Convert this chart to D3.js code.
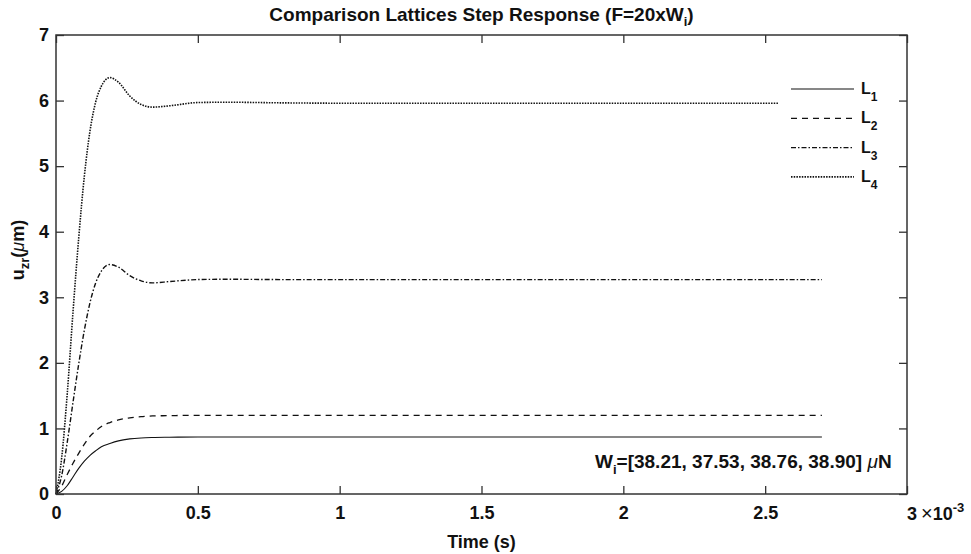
<!DOCTYPE html>
<html>
<head>
<meta charset="utf-8">
<script src="https://cdn.jsdelivr.net/npm/d3@7"></script>
<style>
  html, body { margin: 0; padding: 0; background: #fff; }
  svg { display: block; }
  text { font-family: "Liberation Sans", Arial, sans-serif; font-weight: bold; fill: #111; }
</style>
</head>
<body>
<svg id="chart" width="971" height="554"></svg>
<script>
// ---- data (time in ms, displacement in µm) ----
const timeMs = [0, 0.02, 0.04, 0.06, 0.08, 0.10, 0.12, 0.14, 0.16, 0.19, 0.22, 0.26, 0.30, 0.34, 0.40, 0.50, 0.60, 0.80, 1.0, 1.5, 2.0, 2.7];
const timeL4 = [0, 0.02, 0.04, 0.06, 0.08, 0.10, 0.12, 0.14, 0.16, 0.19, 0.22, 0.26, 0.30, 0.34, 0.40, 0.50, 0.60, 0.80, 1.0, 1.5, 2.0, 2.545];
const L1 = [0, 0.04, 0.13, 0.26, 0.39, 0.50, 0.59, 0.66, 0.72, 0.77, 0.81, 0.84, 0.855, 0.862, 0.866, 0.87, 0.87, 0.87, 0.87, 0.87, 0.87, 0.87];
const L2 = [0, 0.12, 0.30, 0.47, 0.62, 0.76, 0.88, 0.96, 1.03, 1.09, 1.13, 1.16, 1.18, 1.19, 1.195, 1.2, 1.2, 1.2, 1.2, 1.2, 1.2, 1.2];
const L3 = [0, 0.28, 0.80, 1.40, 1.98, 2.50, 2.92, 3.22, 3.40, 3.50, 3.46, 3.33, 3.25, 3.22, 3.24, 3.27, 3.275, 3.27, 3.27, 3.27, 3.27, 3.27];
const L4 = [0, 0.55, 1.55, 2.78, 3.90, 4.85, 5.54, 5.98, 6.22, 6.35, 6.28, 6.07, 5.94, 5.90, 5.92, 5.97, 5.975, 5.965, 5.96, 5.96, 5.96, 5.96];
const seriesNames = ["1", "2", "3", "4"];
const xTicks = [0, 0.5, 1, 1.5, 2, 2.5, 3];
const yTicks = [0, 1, 2, 3, 4, 5, 6, 7];
const titleMain = "Comparison Lattices Step Response (F=20xW";
const annotationValues = "=[38.21, 37.53, 38.76, 38.90] ";

// ---- layout ----
const svg = d3.select("#chart");
const m = { left: 56, right: 907, top: 35, bottom: 494 };
const x = d3.scaleLinear().domain([0, 3]).range([m.left, m.right]);
const y = d3.scaleLinear().domain([0, 7]).range([m.bottom, m.top]);

const series = [
  { name: seriesNames[0], t: timeMs, v: L1, dash: null, w: 1.1 },
  { name: seriesNames[1], t: timeMs, v: L2, dash: "6,5", w: 1.3 },
  { name: seriesNames[2], t: timeMs, v: L3, dash: "5,2,1.5,2", w: 1.4 },
  { name: seriesNames[3], t: timeL4, v: L4, dash: "1.5,1.2", w: 1.6 }
];

const line = d3.line().x(d => x(d[0])).y(d => y(d[1])).curve(d3.curveMonotoneX);
const plot = svg.append("g");
series.forEach(s => {
  const pts = s.t.map((t, i) => [t, s.v[i]]);
  plot.append("path").datum(pts).attr("d", line)
    .attr("fill", "none").attr("stroke", "#111").attr("stroke-width", s.w)
    .attr("stroke-dasharray", s.dash);
});

// ---- axes (inward ticks, box) ----
const tickLen = 8;
const axisCol = "#333";
const fontSize = 18;
const xb = svg.append("g").attr("transform", `translate(0,${m.bottom})`)
  .call(d3.axisBottom(x).tickValues(xTicks).tickSizeInner(-tickLen).tickSizeOuter(0).tickPadding(12)
    .tickFormat(d => d === 3 ? "" : d3.format("~g")(d)));
const xt = svg.append("g").attr("transform", `translate(0,${m.top})`)
  .call(d3.axisTop(x).tickValues(xTicks).tickSizeInner(-tickLen).tickSizeOuter(0).tickFormat(""));
const yl = svg.append("g").attr("transform", `translate(${m.left},0)`)
  .call(d3.axisLeft(y).tickValues(yTicks).tickSizeInner(-tickLen).tickSizeOuter(0).tickPadding(13)
    .tickFormat(d3.format("d")));
const yr = svg.append("g").attr("transform", `translate(${m.right},0)`)
  .call(d3.axisRight(y).tickValues(yTicks).tickSizeInner(-tickLen).tickSizeOuter(0).tickFormat(""));
[xb, xt, yl, yr].forEach(g => {
  g.selectAll(".domain").remove();
  g.selectAll("line").attr("stroke", axisCol).attr("stroke-width", 1.3);
  g.selectAll("text").attr("font-size", fontSize).attr("font-family", "Liberation Sans, Arial, sans-serif")
    .attr("font-weight", "bold").attr("fill", "#111");
});
yl.selectAll("text").attr("dx", 6);
svg.append("rect").attr("x", m.left).attr("y", m.top)
  .attr("width", m.right - m.left).attr("height", m.bottom - m.top)
  .attr("fill", "none").attr("stroke", axisCol).attr("stroke-width", 1.5);

// exponent label at the end of the x axis
const ex = svg.append("text").attr("x", x(3)).attr("y", m.bottom + 26).attr("font-size", fontSize)
  .attr("text-anchor", "start").attr("dx", 0);
ex.append("tspan").text("3");
ex.append("tspan").attr("font-weight", "normal").attr("font-size", 20).attr("dx", 4).text("\u00d7");
ex.append("tspan").text("10");
ex.append("tspan").attr("font-size", 13).attr("dy", -8).text("-3");

// ---- title ----
const tt = svg.append("text").attr("x", (m.left + m.right) / 2).attr("y", 21)
  .attr("text-anchor", "middle").attr("font-size", 19);
tt.append("tspan").text(titleMain);
tt.append("tspan").attr("font-size", 13).attr("dy", 5).text("i");
tt.append("tspan").attr("dy", -5).text(")");

// ---- axis labels ----
svg.append("text").attr("x", (m.left + m.right) / 2).attr("y", 548)
  .attr("text-anchor", "middle").attr("font-size", 18).text("Time (s)");
const ylab = svg.append("text").attr("transform", "translate(24,250) rotate(-90)")
  .attr("text-anchor", "middle").attr("font-size", 18);
ylab.append("tspan").text("u");
ylab.append("tspan").attr("font-size", 13).attr("dy", 5).text("zr");
ylab.append("tspan").attr("dy", -5).text("(");
ylab.append("tspan").attr("font-weight", "normal").attr("font-style", "italic").text("\u03bc");
ylab.append("tspan").text("m)");

// ---- legend (no box) ----
const legY0 = 89, legDy = 29.3;
series.forEach((s, i) => {
  const ly = legY0 + i * legDy;
  svg.append("line").attr("x1", 791).attr("x2", 854).attr("y1", ly).attr("y2", ly)
    .attr("stroke", "#111").attr("stroke-width", s.w).attr("stroke-dasharray", s.dash);
  const lt = svg.append("text").attr("x", 861).attr("y", ly + 5).attr("font-size", 16);
  lt.append("tspan").text("L");
  lt.append("tspan").attr("font-size", 12).attr("dy", 7).text(s.name);
});

// ---- annotation ----
const an = svg.append("text").attr("x", 595).attr("y", 468).attr("font-size", 19);
an.append("tspan").text("W");
an.append("tspan").attr("font-size", 13).attr("dy", 6).text("i");
an.append("tspan").attr("dy", -6).text(annotationValues);
an.append("tspan").attr("font-weight", "normal").attr("font-style", "italic").text("\u03bc");
an.append("tspan").text("N");
</script>
</body>
</html>
